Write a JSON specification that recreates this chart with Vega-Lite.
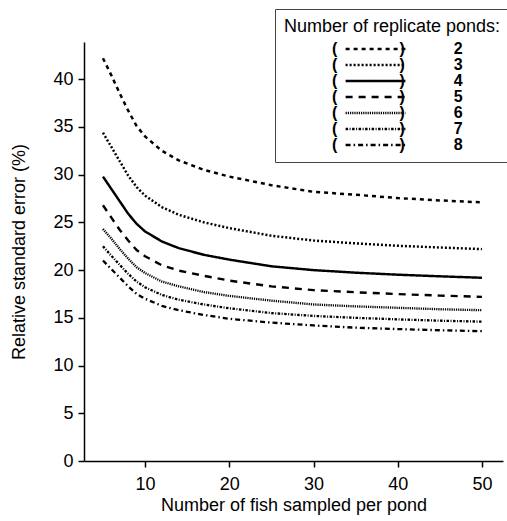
{
 "$schema": "https://vega.github.io/schema/vega-lite/v6.json",
 "width": 419, "height": 419,
 "autosize": {"type": "none"},
 "padding": {"left": 84, "top": 42, "right": 4, "bottom": 60},
 "config": {
  "font": "Liberation Sans",
  "view": {"stroke": null},
  "axis": {"grid": false, "domainColor": "#000", "tickColor": "#000", "labelColor": "#000", "titleColor": "#000",
           "labelFontSize": 18, "titleFontSize": 18, "titleFontWeight": "normal", "domainWidth": 1.5, "tickWidth": 1.5, "tickSize": 6}
 },
 "datasets": {"curves": [
  {"series":"2","n":5,"rse":42.2},{"series":"2","n":6,"rse":40.4},{"series":"2","n":7,"rse":38.5},{"series":"2","n":8,"rse":36.7},{"series":"2","n":9,"rse":35.1},{"series":"2","n":10,"rse":34.0},{"series":"2","n":12,"rse":32.5},{"series":"2","n":14,"rse":31.5},{"series":"2","n":17,"rse":30.5},{"series":"2","n":20,"rse":29.8},{"series":"2","n":25,"rse":28.9},{"series":"2","n":30,"rse":28.2},{"series":"2","n":35,"rse":27.9},{"series":"2","n":40,"rse":27.55},{"series":"2","n":45,"rse":27.3},{"series":"2","n":50,"rse":27.1},
  {"series":"3","n":5,"rse":34.4},{"series":"3","n":6,"rse":32.9},{"series":"3","n":7,"rse":31.4},{"series":"3","n":8,"rse":29.9},{"series":"3","n":9,"rse":28.7},{"series":"3","n":10,"rse":27.8},{"series":"3","n":12,"rse":26.6},{"series":"3","n":14,"rse":25.8},{"series":"3","n":17,"rse":25.0},{"series":"3","n":20,"rse":24.4},{"series":"3","n":25,"rse":23.6},{"series":"3","n":30,"rse":23.1},{"series":"3","n":35,"rse":22.8},{"series":"3","n":40,"rse":22.55},{"series":"3","n":45,"rse":22.37},{"series":"3","n":50,"rse":22.2},
  {"series":"4","n":5,"rse":29.8},{"series":"4","n":6,"rse":28.5},{"series":"4","n":7,"rse":27.2},{"series":"4","n":8,"rse":25.9},{"series":"4","n":9,"rse":24.85},{"series":"4","n":10,"rse":24.05},{"series":"4","n":12,"rse":23.0},{"series":"4","n":14,"rse":22.3},{"series":"4","n":17,"rse":21.6},{"series":"4","n":20,"rse":21.1},{"series":"4","n":25,"rse":20.4},{"series":"4","n":30,"rse":20.0},{"series":"4","n":35,"rse":19.73},{"series":"4","n":40,"rse":19.52},{"series":"4","n":45,"rse":19.35},{"series":"4","n":50,"rse":19.2},
  {"series":"5","n":5,"rse":26.8},{"series":"5","n":6,"rse":25.5},{"series":"5","n":7,"rse":24.2},{"series":"5","n":8,"rse":23.1},{"series":"5","n":9,"rse":22.1},{"series":"5","n":10,"rse":21.45},{"series":"5","n":12,"rse":20.5},{"series":"5","n":14,"rse":19.95},{"series":"5","n":17,"rse":19.4},{"series":"5","n":20,"rse":18.9},{"series":"5","n":25,"rse":18.3},{"series":"5","n":30,"rse":17.9},{"series":"5","n":35,"rse":17.68},{"series":"5","n":40,"rse":17.49},{"series":"5","n":45,"rse":17.33},{"series":"5","n":50,"rse":17.2},
  {"series":"6","n":5,"rse":24.3},{"series":"6","n":6,"rse":23.3},{"series":"6","n":7,"rse":22.2},{"series":"6","n":8,"rse":21.2},{"series":"6","n":9,"rse":20.3},{"series":"6","n":10,"rse":19.7},{"series":"6","n":12,"rse":18.8},{"series":"6","n":14,"rse":18.3},{"series":"6","n":17,"rse":17.7},{"series":"6","n":20,"rse":17.3},{"series":"6","n":25,"rse":16.8},{"series":"6","n":30,"rse":16.4},{"series":"6","n":35,"rse":16.2},{"series":"6","n":40,"rse":16.05},{"series":"6","n":45,"rse":15.9},{"series":"6","n":50,"rse":15.8},
  {"series":"7","n":5,"rse":22.5},{"series":"7","n":6,"rse":21.5},{"series":"7","n":7,"rse":20.55},{"series":"7","n":8,"rse":19.6},{"series":"7","n":9,"rse":18.8},{"series":"7","n":10,"rse":18.2},{"series":"7","n":12,"rse":17.4},{"series":"7","n":14,"rse":16.9},{"series":"7","n":17,"rse":16.4},{"series":"7","n":20,"rse":16.0},{"series":"7","n":25,"rse":15.5},{"series":"7","n":30,"rse":15.2},{"series":"7","n":35,"rse":15.0},{"series":"7","n":40,"rse":14.84},{"series":"7","n":45,"rse":14.7},{"series":"7","n":50,"rse":14.6},
  {"series":"8","n":5,"rse":21.0},{"series":"8","n":6,"rse":20.1},{"series":"8","n":7,"rse":19.2},{"series":"8","n":8,"rse":18.3},{"series":"8","n":9,"rse":17.5},{"series":"8","n":10,"rse":17.0},{"series":"8","n":12,"rse":16.25},{"series":"8","n":14,"rse":15.8},{"series":"8","n":17,"rse":15.3},{"series":"8","n":20,"rse":14.9},{"series":"8","n":25,"rse":14.5},{"series":"8","n":30,"rse":14.2},{"series":"8","n":35,"rse":13.97},{"series":"8","n":40,"rse":13.82},{"series":"8","n":45,"rse":13.7},{"series":"8","n":50,"rse":13.6}
 ]},
 "data": {"name": "curves"},
 "mark": {"type": "line", "color": "#000"},
 "encoding": {
  "x": {"field": "n", "type": "quantitative",
        "scale": {"domain": [2.75, 52.5], "nice": false, "zero": false},
        "axis": {"values": [10, 20, 30, 40, 50], "title": "Number of fish sampled per pond", "labelPadding": 8, "titlePadding": 3}},
  "y": {"field": "rse", "type": "quantitative",
        "scale": {"domain": [0, 43.9], "nice": false},
        "axis": {"values": [0, 5, 10, 15, 20, 25, 30, 35, 40], "title": "Relative standard error (%)", "labelPadding": 5, "titlePadding": 24}},
  "strokeDash": {"field": "series", "type": "nominal",
        "scale": {"domain": ["2","3","4","5","6","7","8"],
                  "range": [[4,4],[2,2],[1,0],[7,6],[1.2,1],[2.5,1.5,1,1.5],[5,3,1.5,3]]},
        "legend": {"orient": "none", "legendX": 191, "legendY": -33,
                   "title": "Number of replicate ponds:", "titleLimit": 400, "titleFontSize": 18, "titleFontWeight": "normal", "titleColor": "#000", "titlePadding": 5,
                   "labelFontSize": 16, "labelFontWeight": "bold", "labelColor": "#000", "labelLimit": 400,
                   "symbolType": "M-4.6,0H4.6", "symbolSize": 169, "symbolStrokeColor": "#000", "symbolStrokeWidth": 1.6,
                   "symbolOffset": 83.5, "labelOffset": -51.5, "rowPadding": 0,
                   "labelExpr": "'(' + '\u00a0\u00a0\u00a0\u00a0\u00a0\u00a0\u00a0\u00a0\u00a0\u00a0\u00a0\u00a0\u00a0\u00a0' + ')' + '\u00a0\u00a0\u00a0\u00a0\u00a0\u00a0\u00a0\u00a0\u00a0\u00a0\u00a0' + datum.label",
                   "strokeColor": "#444", "fillColor": "#fff", "padding": 9}},
  "strokeWidth": {"field": "series", "type": "ordinal",
        "scale": {"domain": ["2","3","4","5","6","7","8"], "range": [2.5, 2.3, 1.8, 2.6, 2.2, 2.2, 2.4]},
        "legend": null}
 }
}
